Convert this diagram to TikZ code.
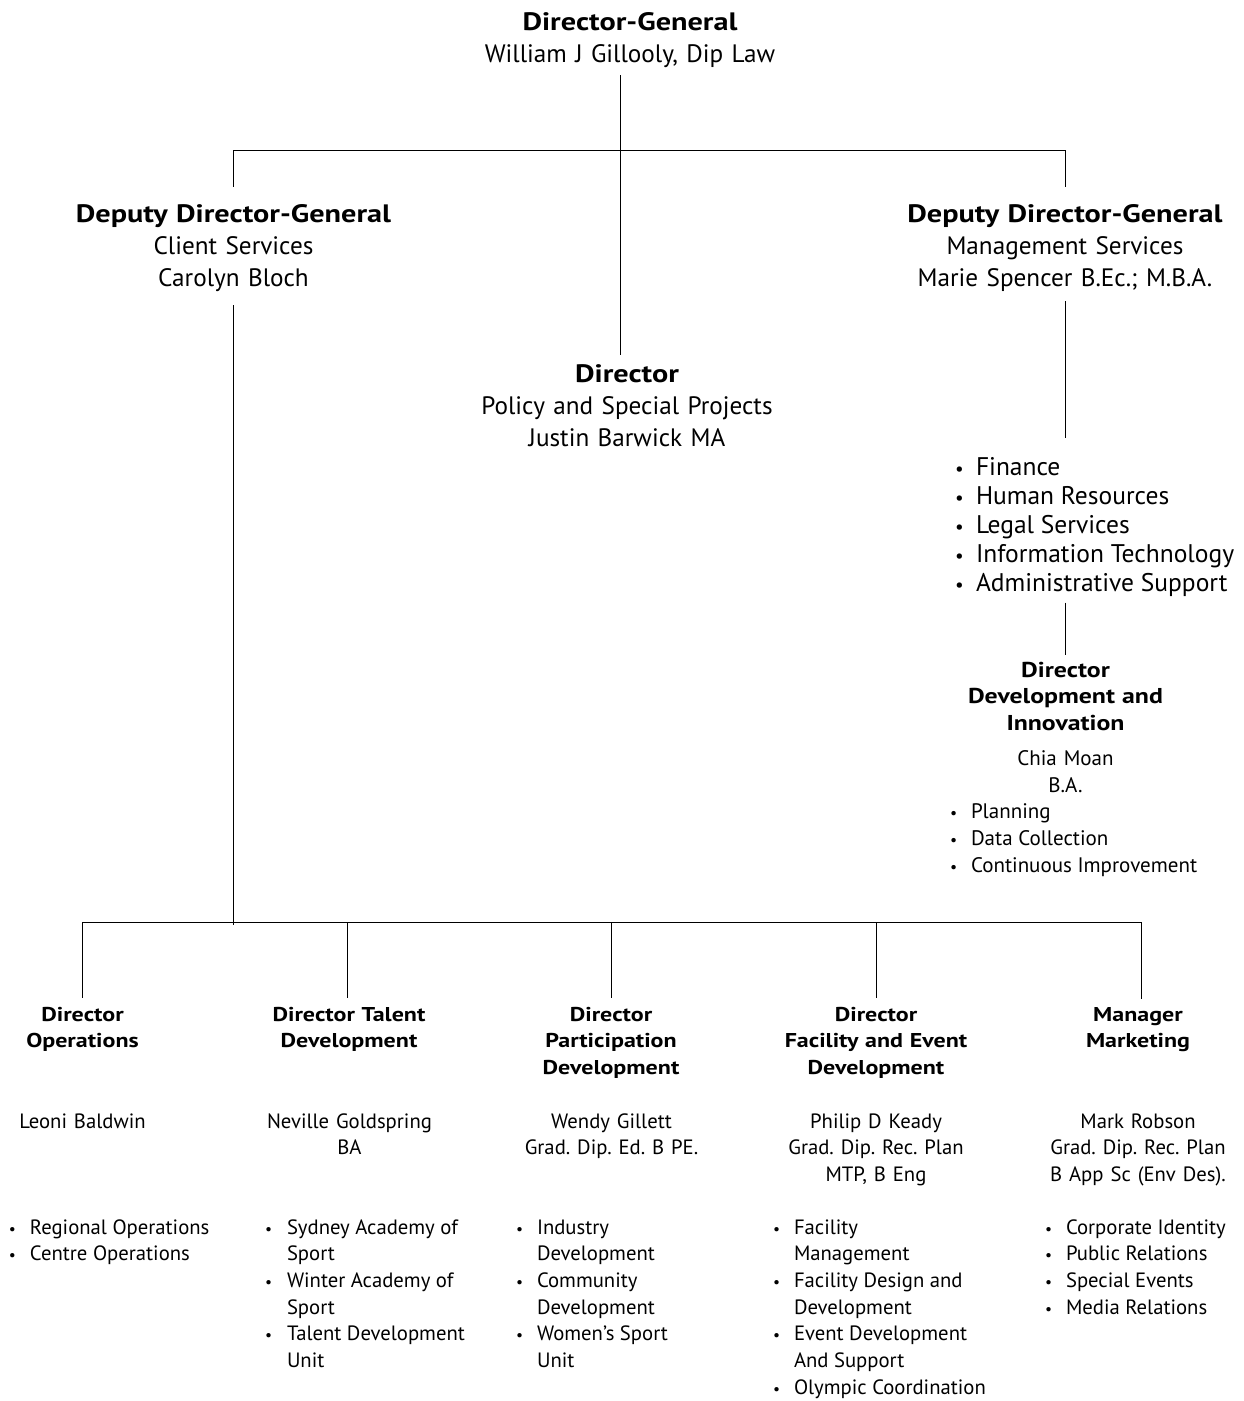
\documentclass[tikz,border=0pt]{standalone}
\usepackage{fontspec}
\usepackage{graphicx}
\setmainfont{PT Sans}[BoldFeatures={FakeStretch=1.2}]
\frenchspacing
\newcommand{\bu}[1][20pt]{\makebox[#1][l]{\scalebox{0.75}{\textbullet}}}
\begin{document}
\begin{tikzpicture}[x=1pt,y=-1pt,
  every node/.style={inner sep=0pt,outer sep=0pt},
  ln/.style={line width=1pt,black},
  topblk/.style={anchor=base,align=center,text width=360pt,font=\fontsize{25.2}{32}\selectfont\frenchspacing},
  finlist/.style={anchor=base west,font=\fontsize{25.5}{29}\selectfont},
  devhead/.style={anchor=base,align=center,text width=240pt,font=\fontsize{21.5}{26.7}\selectfont\bfseries},
  devname/.style={anchor=base,align=center,text width=240pt,font=\fontsize{21}{27}\selectfont},
  devlist/.style={anchor=base west,font=\fontsize{21}{27}\selectfont},
  colhead/.style={anchor=base,align=center,text width=240pt,font=\fontsize{20}{26.7}\selectfont\bfseries},
  colname/.style={anchor=base,align=center,text width=240pt,font=\fontsize{20.7}{26.7}\selectfont\frenchspacing},
  collist/.style={anchor=base west,font=\fontsize{20.7}{26.7}\selectfont}]
\path[use as bounding box] (0,0) rectangle (1244,1401);

% top level
\node[topblk] (dg) at (630,30) {\textbf{Director-General}\\William J Gillooly, Dip Law};
\node[topblk] (ddgl) at (233.5,222) {\textbf{Deputy Director-General}\\Client Services\\Carolyn Bloch};
\node[topblk] (ddgr) at (1065,222) {\textbf{Deputy Director-General}\\Management Services\\Marie Spencer B.Ec.; M.B.A.};
\node[topblk] (pol) at (627,382) {\textbf{Director}\\Policy and Special Projects\\Justin Barwick MA};

\node[finlist] (fin) at (955,475) {\begin{tabular}[t]{@{}l@{}l@{}}
\bu[21pt] & Finance\\
\bu[21pt] & Human Resources\\
\bu[21pt] & Legal Services\\
\bu[21pt] & Information Technology\\
\bu[21pt] & Administrative Support
\end{tabular}};

\node[devhead] (did) at (1065.5,677) {Director\\Development and\\Innovation};
\node[devname] (didn) at (1065.5,765) {Chia Moan\\B.A.};
\node[devlist] (didl) at (950,818) {\begin{tabular}[t]{@{}l@{}l@{}}
\bu[21pt] & Planning\\
\bu[21pt] & Data Collection\\
\bu[21pt] & Continuous Improvement
\end{tabular}};

% bottom columns
\node[colhead] (h1) at (82.5,1021) {Director\\Operations};
\node[colhead] (h2) at (349,1021) {Director Talent\\Development};
\node[colhead] (h3) at (611,1021) {Director\\Participation\\Development};
\node[colhead] (h4) at (876,1021) {Director\\Facility and Event\\Development};
\node[colhead] (h5) at (1138,1021) {Manager\\Marketing};

\node[colname] (n1) at (82.5,1128) {Leoni Baldwin};
\node[colname] (n2) at (349.5,1128) {Neville Goldspring\\BA};
\node[colname] (n3) at (611.5,1128) {Wendy Gillett\\Grad. Dip. Ed. B PE.};
\node[colname] (n4) at (876,1128) {Philip D Keady\\Grad. Dip. Rec. Plan\\MTP, B Eng};
\node[colname] (n5) at (1138,1128) {Mark Robson\\Grad. Dip. Rec. Plan\\B App Sc (Env Des).};

\node[collist] (l1) at (9,1234) {\begin{tabular}[t]{@{}l@{}l@{}}
\bu[21pt] & Regional Operations\\
\bu[21pt] & Centre Operations
\end{tabular}};
\node[collist] (l2) at (265,1234) {\begin{tabular}[t]{@{}l@{}l@{}}
\bu[22pt] & Sydney Academy of\\
 & Sport\\
\bu[22pt] & Winter Academy of\\
 & Sport\\
\bu[22pt] & Talent Development\\
 & Unit
\end{tabular}};
\node[collist] (l3) at (516,1234) {\begin{tabular}[t]{@{}l@{}l@{}}
\bu[21pt] & Industry\\
 & Development\\
\bu[21pt] & Community\\
 & Development\\
\bu[21pt] & Women’s Sport\\
 & Unit
\end{tabular}};
\node[collist] (l4) at (773,1234) {\begin{tabular}[t]{@{}l@{}l@{}}
\bu[21pt] & Facility\\
 & Management\\
\bu[21pt] & Facility Design and\\
 & Development\\
\bu[21pt] & Event Development\\
 & And Support\\
\bu[21pt] & Olympic Coordination
\end{tabular}};
\node[collist] (l5) at (1045,1234) {\begin{tabular}[t]{@{}l@{}l@{}}
\bu[21pt] & Corporate Identity\\
\bu[21pt] & Public Relations\\
\bu[21pt] & Special Events\\
\bu[21pt] & Media Relations
\end{tabular}};

% connectors
\coordinate (tj) at (620,150);
\coordinate (tl) at (233,150);
\coordinate (tr) at (1065,150);
\coordinate (bm) at (233,922);
\coordinate (b1) at (82,922);
\coordinate (b2) at (347,922);
\coordinate (b3) at (611,922);
\coordinate (b4) at (876,922);
\coordinate (b5) at (1141,922);

\draw[ln,shorten <=8pt,shorten >=9pt] (dg.south -| tj) -- (pol.north -| tj);
\draw[ln] (tl) -- (tr);
\draw[ln,shorten >=17pt] (tl) -- (ddgl.north -| tl);
\draw[ln,shorten >=17pt] (tr) -- (ddgr.north -| tr);
\draw[ln,shorten <=14pt,shorten >=-3pt] (ddgl.south -| bm) -- (bm);
\draw[ln,shorten <=10pt,shorten >=17pt] (ddgr.south -| tr) -- (fin.north -| tr);
\draw[ln,shorten <=3pt,shorten >=6.5pt] (fin.south -| tr) -- (did.north -| tr);
\draw[ln] (b1) -- (b5);
\foreach \i in {1,...,5}{
  \draw[ln,shorten >=8.5pt] (b\i) -- (h\i.north -| b\i);
}
\end{tikzpicture}
\end{document}
